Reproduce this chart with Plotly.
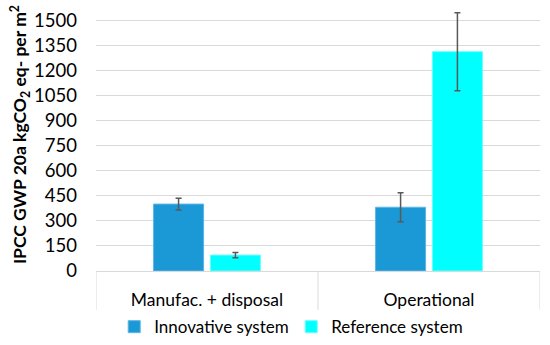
import plotly.graph_objects as go

categories = ["Manufac. + disposal", "Operational"]
innovative = [400, 381]
innovative_err = [35, 87]
reference = [95, 1311]
reference_err = [16, 233]
tick_vals = [0, 150, 300, 450, 600, 750, 900, 1050, 1200, 1350, 1500]
y_title = "<b>IPCC GWP 20a kgCO<sub>2</sub> eq- per m<sup>2</sup></b>"

FONT = "Lato"
fig = go.Figure()
fig.add_trace(go.Bar(
    name="Innovative system", x=categories, y=innovative,
    marker=dict(color="#1B98D6", line=dict(color="#5AB6E6", width=1)),
    error_y=dict(type="data", array=innovative_err, visible=True,
                 color="#595959", thickness=1.5, width=3),
))
fig.add_trace(go.Bar(
    name="Reference system", x=categories, y=reference,
    marker=dict(color="#00FFFF", line=dict(color="#66FFFF", width=1)),
    error_y=dict(type="data", array=reference_err, visible=True,
                 color="#595959", thickness=1.5, width=3),
))

line_col = "#D9D9D9"
shapes = []
for xv in [-0.5, 0.5, 1.5]:
    shapes.append(dict(type="line", xref="x", yref="paper", x0=xv, x1=xv,
                       y0=0, y1=-0.149, line=dict(color=line_col, width=1)))

fig.update_layout(
    width=550, height=345,
    margin=dict(l=96, r=10, t=10, b=74, autoexpand=False),
    paper_bgcolor="white", plot_bgcolor="white",
    barmode="group", bargap=0.488, bargroupgap=0.12,
    font=dict(family=FONT, size=17, color="#000000"),
    showlegend=True,
    legend=dict(orientation="h", x=0.041, xanchor="left", y=-0.215, yanchor="middle",
                font=dict(family=FONT, size=17), traceorder="normal",
                entrywidth=132, entrywidthmode="pixels",
                bgcolor="rgba(0,0,0,0)"),
    shapes=shapes,
    annotations=[dict(text=y_title, textangle=-90, xref="paper", yref="paper",
                      x=-0.171, y=0.521, xanchor="center", yanchor="middle",
                      showarrow=False, font=dict(family=FONT, size=17.5, color="#000000"))],
    xaxis=dict(range=[-0.5, 1.5], showline=True, linecolor=line_col, linewidth=1,
               showgrid=False, ticks="", ticklabelstandoff=13, automargin=False,
               tickfont=dict(family=FONT, size=17.5, color="#000000")),
    yaxis=dict(range=[0, 1560], tickvals=tick_vals, showgrid=True, gridcolor=line_col,
               gridwidth=1, zeroline=False, showline=False, ticks="",
               ticklabelstandoff=18, automargin=False,
               tickfont=dict(family=FONT, size=18.5, color="#000000")),
)

fig.write_html("out.html", config={"displayModeBar": False},
               post_script="document.body.style.margin='0';document.body.style.padding='0';")
